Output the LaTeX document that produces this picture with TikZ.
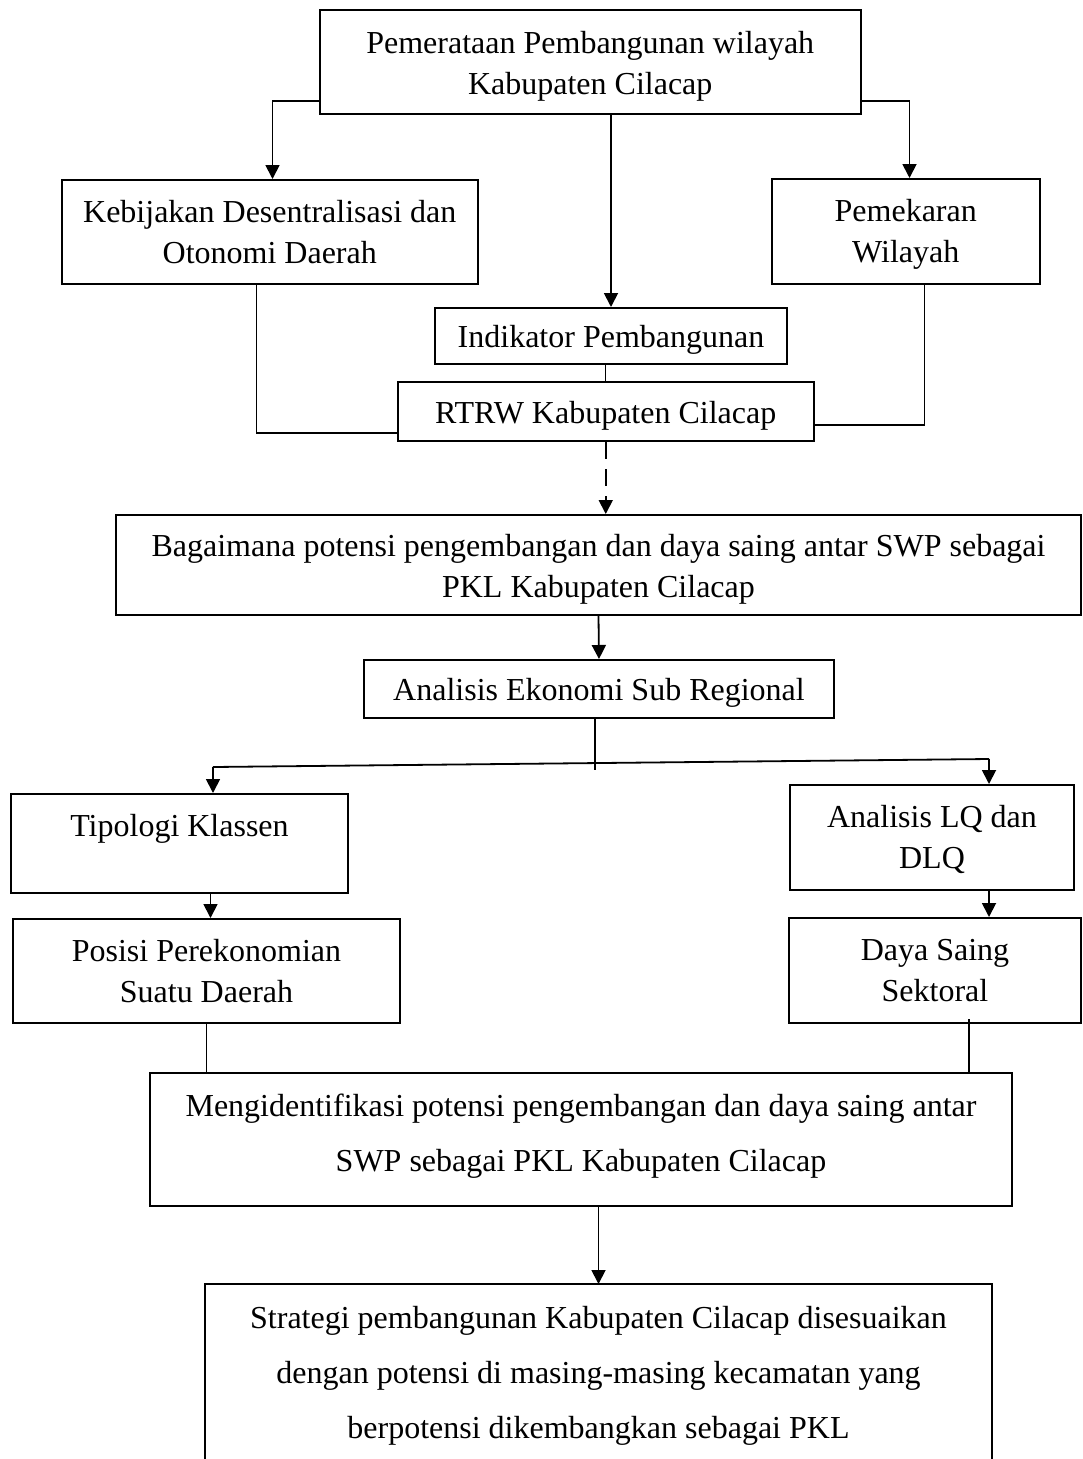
\documentclass[tikz,border=0pt]{standalone}
\usepackage{fontspec}
\setmainfont{Liberation Serif}
\usetikzlibrary{arrows.meta,calc}
\newcommand{\lowln}[2][4pt]{\raisebox{-#1}[\height][\depth]{#2}}
\begin{document}
\begin{tikzpicture}[x=1pt,y=-1pt,
  box/.style={draw,line width=2pt,inner sep=0pt,align=center,font=\fontsize{32}{41}\selectfont},
  txt/.style={inner sep=0pt,align=center,font=\fontsize{32}{41}\selectfont},
  wide/.style={inner sep=0pt,align=center,font=\fontsize{32}{55}\selectfont},
  arr/.style={line width=1.8pt,-{Triangle[length=14pt,width=14pt]}},
  dsharr/.style={line width=1.8pt,dash pattern=on 17pt off 10pt,-{Triangle[length=14pt,width=14pt]}},
  ln/.style={line width=1.2pt},
  edge2/.style={line width=2pt}]
\useasboundingbox (0,0) rectangle (1082,1459);

% boxes
\node[box,minimum width=541.5pt,minimum height=104pt] (top) at (590.25,62) {\lowln{Pemerataan Pembangunan wilayah}\\\lowln{Kabupaten Cilacap}};
\node[box,minimum width=415.5pt,minimum height=104pt] (keb) at (269.75,232) {Kebijakan Desentralisasi dan\\Otonomi Daerah};
\node[box,minimum width=268.5pt,minimum height=105pt] (pem) at (905.75,231.5) {\lowln[3pt]{Pemekaran}\\\lowln[3pt]{Wilayah}};
\node[box,minimum width=352pt,minimum height=56pt] (ind) at (611,336) {\lowln{Indikator Pembangunan}};
\node[box,minimum width=416.5pt,minimum height=59pt] (rtrw) at (605.75,411.5) {\lowln{RTRW Kabupaten Cilacap}};
\node[box,minimum width=965pt,minimum height=100pt] (bag) at (598.5,565) {\lowln{Bagaimana potensi pengembangan dan daya saing antar SWP sebagai}\\\lowln{PKL Kabupaten Cilacap}};
\node[box,minimum width=470pt,minimum height=58pt] (ana) at (599,689) {\lowln{Analisis Ekonomi Sub Regional}};
\node[box,minimum width=337pt,minimum height=99pt] (tip) at (179.5,843.5) {};
\node[txt] (tipT) at (179.5,829) {Tipologi Klassen};
\node[box,minimum width=284pt,minimum height=105pt] (lq) at (932,837.5) {\lowln[2pt]{Analisis LQ dan}\\\lowln[2pt]{DLQ}};
\node[box,minimum width=387pt,minimum height=104pt] (pos) at (206.5,971) {Posisi Perekonomian\\Suatu Daerah};
\node[box,minimum width=292pt,minimum height=105pt] (day) at (935,970.5) {Daya Saing\\Sektoral};
\node[box,minimum width=862pt,minimum height=133pt] (men) at (581,1139.5) {};
\node[wide] (menT) at (581,1136.5) {Mengidentifikasi potensi pengembangan dan daya saing antar\\SWP sebagai PKL Kabupaten Cilacap};

% open box at the bottom
\coordinate (sbl) at (205,1459);
\coordinate (sbr) at (992,1459);
\coordinate (strtop) at (598.5,1284);
\draw[edge2] (sbl) |- (strtop) -| (sbr);
\node[wide] (str) at (598.5,1376) {Strategi pembangunan Kabupaten Cilacap disesuaikan\\dengan potensi di masing-masing kecamatan yang\\berpotensi dikembangkan sebagai PKL};

% connectors
\draw[arr] ($(top.south west)+(0,-14)$) -| ($(keb.north)+(2.75,0)$);
\draw[arr] ($(top.south east)+(0,-14)$) -| ($(pem.north)+(3.75,0)$);
\draw[arr] (ind.north |- top.south) -- (ind.north);
\draw[ln] (rtrw.north |- ind.south) -- (rtrw.north);
\draw[ln] ($(keb.south)+(-13,0)$) |- ($(rtrw.west)+(0,21.5)$);
\draw[ln] ($(pem.south)+(19,0)$) |- ($(rtrw.east)+(0,13.5)$);
\draw[dsharr] (rtrw.south) -- (rtrw.south |- bag.north);
\draw[arr] (bag.south) -- (ana.north);

\coordinate (jn) at (595,770);
\coordinate (hl) at (213,767);
\coordinate (hr) at (989,759);
\draw[ln] (jn |- ana.south) -- (jn);
\draw[line width=1.8pt] (hl) -- (hr);
\draw[arr] (hl) -- (hl |- tip.north);
\draw[arr] (hr) -- (hr |- lq.north);

\draw[arr] ($(tip.south)+(31,0)$) -- ($(pos.north)+(4,0)$);
\draw[arr] ($(lq.south)+(57,0)$) -- ($(day.north)+(54,0)$);
\draw[ln] (pos.south) -- (pos.south |- men.north);
\draw[ln] ($(day.south)+(34,-5)$) coordinate (dl) -- (dl |- men.north);
\draw[arr] (strtop |- men.south) -- (strtop);
\end{tikzpicture}
\end{document}
